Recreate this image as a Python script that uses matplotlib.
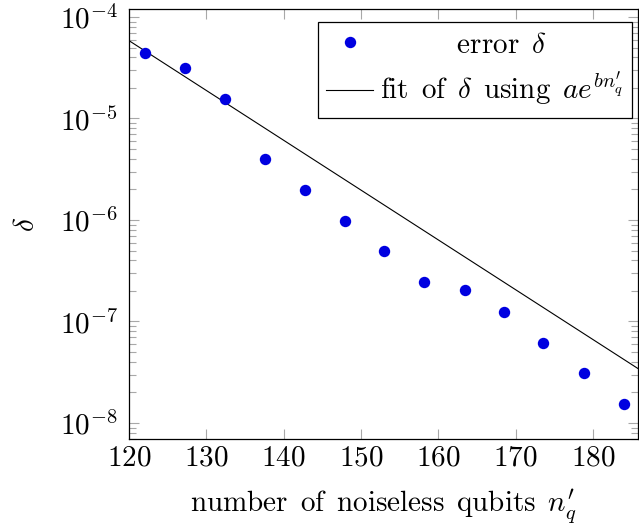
import matplotlib
matplotlib.use("Agg")
import matplotlib.pyplot as plt
import numpy as np
from matplotlib.ticker import FixedLocator, LogLocator, NullFormatter

plt.rcParams['mathtext.fontset'] = 'cm'
plt.rcParams['font.family'] = 'serif'
plt.rcParams['font.serif'] = ['DejaVu Serif']

# measured error delta vs number of noiseless qubits
n_q = [122.1, 127.3, 132.4, 137.6, 142.7, 147.9, 153.0, 158.2, 163.4, 168.5, 173.6, 178.8, 184.0]
delta = [4.41e-5, 3.12e-5, 1.57e-5, 3.96e-6, 1.98e-6, 9.8e-7, 4.95e-7, 2.47e-7,
         2.04e-7, 1.24e-7, 6.18e-8, 3.09e-8, 1.55e-8]

# fit delta = a * exp(b * n_q)
fit_a = 45.3
fit_b = -0.1130

x_ticks = [120, 130, 140, 150, 160, 170, 180]
y_exps = [-8, -7, -6, -5, -4]

fs = 21
sp = r'\ \,'  # TeX-like word space in mathtext

fig = plt.figure(figsize=(6.39, 5.32), dpi=100)
ax = fig.add_axes([0.2019, 0.1748, 0.7973, 0.8083])

x_lo, x_hi = 120, 185.9
xs = np.linspace(x_lo, x_hi, 200)
ax.plot(xs, fit_a * np.exp(fit_b * xs), color='black', lw=0.8,
        label=r'$\mathrm{fit' + sp + r'of}' + sp + r'\delta' + sp + r'\mathrm{using}' + sp
              + r'ae^{bn_q^{\prime}}\;$')
ax.plot(n_q, delta, 'o', color='#0000e0', ms=8.2, mec='none', clip_on=False,
        label=r'$\quad\quad\quad\mathrm{error}' + sp + r'\delta$')

ax.set_yscale('log')
ax.set_xlim(x_lo, x_hi)
ax.set_ylim(10 ** -8.158, 10 ** -3.921)

ax.xaxis.set_major_locator(FixedLocator(x_ticks))
ax.set_xticklabels([r'$%d$' % t for t in x_ticks])
ax.yaxis.set_major_locator(FixedLocator([10.0 ** e for e in y_exps]))
ax.set_yticklabels([r'$10^{%d}$' % e for e in y_exps])
ax.yaxis.set_minor_locator(LogLocator(base=10, subs=np.arange(2, 10), numticks=20))
ax.yaxis.set_minor_formatter(NullFormatter())

ax.tick_params(which='both', direction='in', top=True, right=True,
               color='#a8a8a8', width=0.8, labelsize=fs)
ax.tick_params(axis='y', pad=8)
ax.tick_params(axis='x', pad=3)
ax.tick_params(which='major', length=7.5)
ax.tick_params(which='minor', length=5)
for s in ax.spines.values():
    s.set_linewidth(0.9)

ax.set_xlabel(r'$\mathrm{number' + sp + r'of' + sp + r'noiseless' + sp + r'qubits}' + sp
              + r'n_q^{\prime}$', fontsize=fs, labelpad=12)
ax.set_ylabel(r'$\delta$', fontsize=fs, labelpad=14)

handles, labels = ax.get_legend_handles_labels()
leg = ax.legend(handles[::-1], labels[::-1], loc='upper right',
                bbox_to_anchor=(0.987, 0.970), borderaxespad=0, fontsize=fs,
                handlelength=1.6, handletextpad=0.25, labelspacing=0.4,
                borderpad=0.3, numpoints=1, fancybox=False, edgecolor='black', framealpha=1)
leg.get_frame().set_linewidth(0.9)

fig.savefig('out.png', dpi=100)
